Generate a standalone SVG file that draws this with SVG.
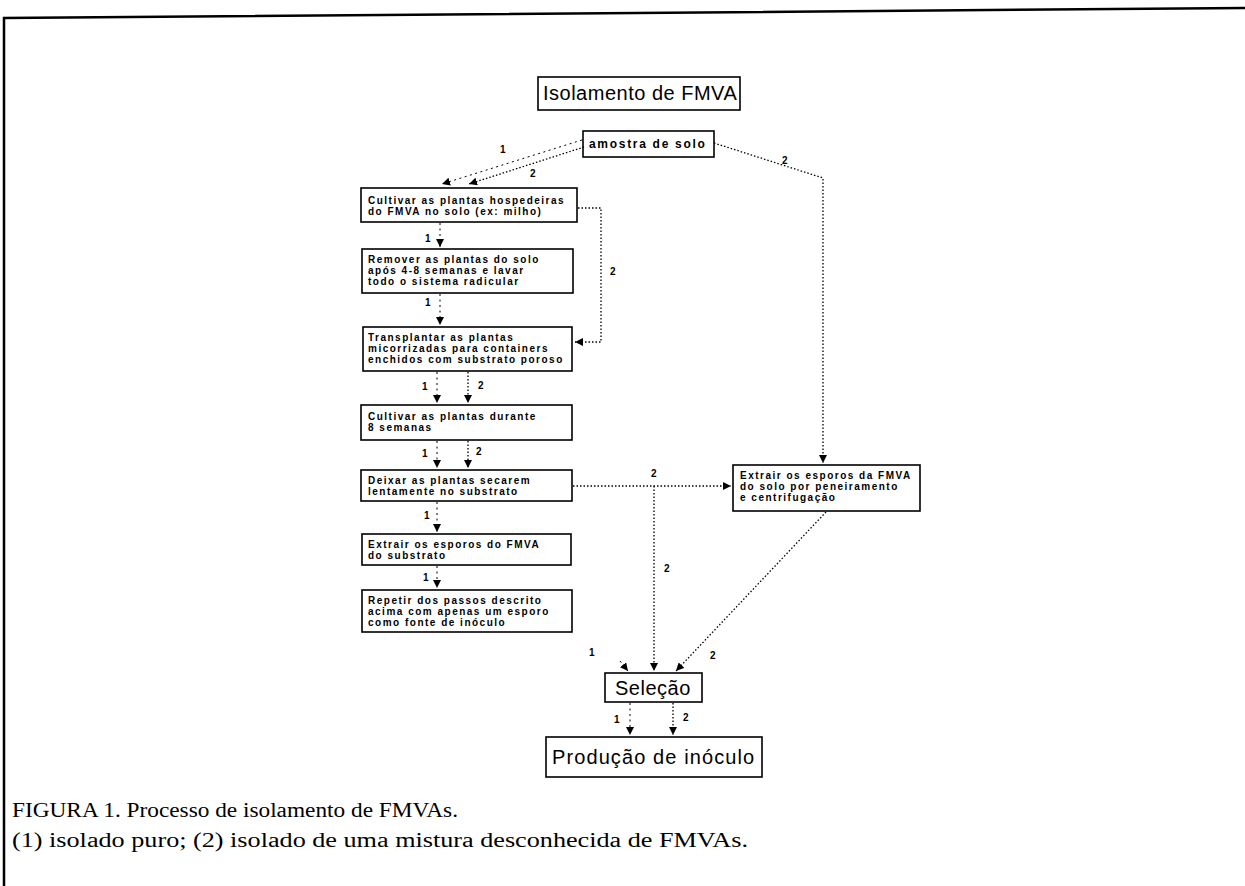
<svg xmlns="http://www.w3.org/2000/svg" width="1245" height="886" viewBox="0 0 1245 886">
<style>
.bg{fill:#ffffff}
.frame{fill:none;stroke:#000;stroke-width:2.5}
.box{fill:#fff;stroke:#000;stroke-width:1.6}
.big{font-family:"Liberation Sans",Arial,sans-serif;font-size:20px;fill:#000}
.mid{font-family:"Liberation Sans",Arial,sans-serif;font-size:12px;font-weight:bold;letter-spacing:1.7px;fill:#000}
.sm{font-family:"Liberation Sans",Arial,sans-serif;font-size:10px;font-weight:bold;letter-spacing:1.5px;fill:#000}
.lbl{font-family:"Liberation Sans",Arial,sans-serif;font-size:10px;font-weight:bold;fill:#000}
.cap{font-family:"Liberation Serif","Times New Roman",serif;font-size:20px;fill:#000}
.c2{fill:none;stroke:#000;stroke-width:1.3;stroke-dasharray:1.5 2}
.c1{fill:none;stroke:#000;stroke-width:1;stroke-dasharray:2 3.5}
</style>
<defs>
<marker id="ah" markerUnits="userSpaceOnUse" markerWidth="9" markerHeight="8" refX="8" refY="4" orient="auto">
<path d="M0,0 L8,4 L0,8 z" fill="#000"/>
</marker>
</defs>
<rect class="bg" x="0" y="0" width="1245" height="886"/>
<path class="frame" d="M4,886 L4,18 L1245,8"/>

<g id="title">
<rect class="box" x="538" y="77" width="202" height="33"/>
<text class="big" x="543" y="100" letter-spacing="0.5">Isolamento de FMVA</text>
</g>
<g id="amostra">
<rect class="box" x="583" y="131" width="131" height="26"/>
<text class="mid" x="589" y="148">amostra de solo</text>
</g>
<g id="n1">
<rect class="box" x="361" y="188" width="216" height="34"/>
<text class="sm" x="368" y="204">Cultivar as plantas hospedeiras</text>
<text class="sm" x="368" y="215">do FMVA no solo (ex: milho)</text>
</g>
<g id="n2">
<rect class="box" x="362" y="249" width="211" height="44"/>
<text class="sm" x="368" y="263">Remover as plantas do solo</text>
<text class="sm" x="368" y="274">após 4-8 semanas e lavar</text>
<text class="sm" x="368" y="285">todo o sistema radicular</text>
</g>
<g id="n3">
<rect class="box" x="363" y="327" width="209" height="44"/>
<text class="sm" x="368" y="341">Transplantar as plantas</text>
<text class="sm" x="368" y="352">micorrizadas para containers</text>
<text class="sm" x="368" y="363">enchidos com substrato poroso</text>
</g>
<g id="n4">
<rect class="box" x="361" y="405" width="211" height="35"/>
<text class="sm" x="368" y="420">Cultivar as plantas durante</text>
<text class="sm" x="368" y="431">8 semanas</text>
</g>
<g id="n5">
<rect class="box" x="361" y="470" width="211" height="31"/>
<text class="sm" x="368" y="484">Deixar as plantas secarem</text>
<text class="sm" x="368" y="495">lentamente no substrato</text>
</g>
<g id="n6">
<rect class="box" x="362" y="534" width="209" height="31"/>
<text class="sm" x="368" y="548">Extrair os esporos do FMVA</text>
<text class="sm" x="368" y="559">do substrato</text>
</g>
<g id="n7">
<rect class="box" x="362" y="590" width="210" height="42"/>
<text class="sm" x="368" y="604">Repetir dos passos descrito</text>
<text class="sm" x="368" y="615">acima com apenas um esporo</text>
<text class="sm" x="368" y="626">como fonte de inóculo</text>
</g>
<g id="n8">
<rect class="box" x="733" y="465" width="187" height="46"/>
<text class="sm" x="740" y="479">Extrair os esporos da FMVA</text>
<text class="sm" x="740" y="490">do solo por peneiramento</text>
<text class="sm" x="740" y="501">e centrifugação</text>
</g>
<g id="selecao">
<rect class="box" x="605" y="673" width="97" height="29"/>
<text class="big" x="615" y="695" letter-spacing="0.5">Seleção</text>
</g>
<g id="producao">
<rect class="box" x="546" y="737" width="216" height="40"/>
<text class="big" x="552" y="764" letter-spacing="1.1">Produção de inóculo</text>
</g>

<g id="connectors">
<path class="c1" d="M582,140 L442,184" marker-end="url(#ah)"/>
<path class="c2" d="M584,147 L469,184" marker-end="url(#ah)"/>
<path class="c2" d="M714,143 L823,178 L823,463" marker-end="url(#ah)"/>
<path class="c2" d="M578,208 L601,208 L601,342 L575,342" marker-end="url(#ah)"/>
<path class="c1" d="M440,223 L440,247" marker-end="url(#ah)"/>
<path class="c1" d="M440,294 L440,325" marker-end="url(#ah)"/>
<path class="c1" d="M437,372 L437,403" marker-end="url(#ah)"/>
<path class="c2" d="M468,372 L468,403" marker-end="url(#ah)"/>
<path class="c1" d="M437,441 L437,468" marker-end="url(#ah)"/>
<path class="c2" d="M468,441 L468,468" marker-end="url(#ah)"/>
<path class="c1" d="M437,502 L437,532" marker-end="url(#ah)"/>
<path class="c1" d="M437,566 L437,588" marker-end="url(#ah)"/>
<path class="c2" d="M573,486 L731,486" marker-end="url(#ah)"/>
<path class="c2" d="M654,486 L654,671" marker-end="url(#ah)"/>
<path class="c2" d="M826,512 L676,671" marker-end="url(#ah)"/>
<path class="c1" d="M620,661 L628,671" marker-end="url(#ah)"/>
<path class="c1" d="M630,703 L630,735" marker-end="url(#ah)"/>
<path class="c2" d="M673,703 L673,735" marker-end="url(#ah)"/>
<text class="lbl" x="500" y="153">1</text>
<text class="lbl" x="530" y="177">2</text>
<text class="lbl" x="782" y="164">2</text>
<text class="lbl" x="610" y="275">2</text>
<text class="lbl" x="425" y="242">1</text>
<text class="lbl" x="425" y="306">1</text>
<text class="lbl" x="422" y="390">1</text>
<text class="lbl" x="478" y="389">2</text>
<text class="lbl" x="422" y="457">1</text>
<text class="lbl" x="476" y="455">2</text>
<text class="lbl" x="424" y="519">1</text>
<text class="lbl" x="423" y="581">1</text>
<text class="lbl" x="651" y="477">2</text>
<text class="lbl" x="664" y="572">2</text>
<text class="lbl" x="710" y="659">2</text>
<text class="lbl" x="589" y="656">1</text>
<text class="lbl" x="614" y="723">1</text>
<text class="lbl" x="683" y="721">2</text>
</g>

<g id="caption">
<text class="cap" x="12" y="817" textLength="446" lengthAdjust="spacingAndGlyphs">FIGURA 1. Processo de isolamento de FMVAs.</text>
<text class="cap" x="12" y="847" textLength="736" lengthAdjust="spacingAndGlyphs">(1) isolado puro; (2) isolado de uma mistura desconhecida de FMVAs.</text>
</g>
</svg>
